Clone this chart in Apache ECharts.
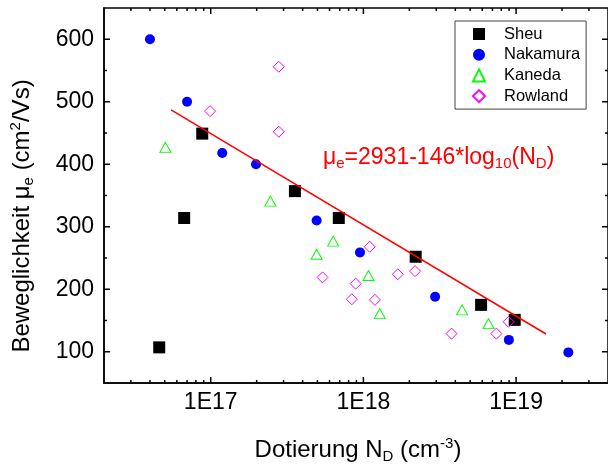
<!DOCTYPE html>
<html>
<head>
<meta charset="utf-8">
<script src="https://cdn.jsdelivr.net/npm/echarts@6/dist/echarts.min.js"></script>
<style>
  html, body { margin: 0; padding: 0; background: #fff; }
  #chart { width: 608px; height: 468px; }
</style>
</head>
<body>
<div id="chart"></div>
<script>
// Electron mobility vs. donor concentration, four literature sources
const sheuN = [4.6e16, 6.7e16, 8.8e16, 3.56e17, 6.9e17, 2.2e18, 5.9e18, 9.8e18];
const sheuMu = [107, 314, 449, 357, 314, 252, 175, 151];

const nakamuraN = [4.0e16, 7.0e16, 1.19e17, 1.98e17, 4.94e17, 9.5e17, 2.95e18, 8.97e18, 2.2e19];
const nakamuraMu = [600, 500, 418, 400, 310, 259, 188, 119, 99];

const kanedaN = [5.05e16, 2.46e17, 4.94e17, 6.34e17, 1.08e18, 1.28e18, 4.43e18, 6.6e18];
const kanedaMu = [427, 341, 256, 277, 222, 161, 167, 145];

const rowlandN = [9.9e16, 2.79e17, 2.79e17, 5.4e17, 8.4e17, 8.9e17, 1.1e18, 1.19e18, 1.68e18, 2.18e18, 3.78e18, 7.43e18, 8.93e18];
const rowlandMu = [485, 556, 452, 219, 184, 209, 268, 183, 224, 229, 129, 129, 148];

// Fit: mu_e = 2931 - 146*log10(N_D), drawn over this doping range
const fitA = 2931;
const fitB = 146;
const fitRange = [5.5e16, 1.57e19];

// Axis ticks
const xMajorTicks = [1e17, 1e18, 1e19];
const xMinorTicks = [3e16, 4e16, 5e16, 6e16, 7e16, 8e16, 9e16,
  2e17, 3e17, 4e17, 5e17, 6e17, 7e17, 8e17, 9e17,
  2e18, 3e18, 4e18, 5e18, 6e18, 7e18, 8e18, 9e18,
  2e19, 3e19];
const yMajorTicks = [100, 200, 300, 400, 500, 600];
const yMinorTicks = [150, 250, 350, 450, 550];

const FONT = 'Liberation Sans, Arial, Helvetica, sans-serif';
const X_MIN = 2e16, X_MAX = 4e19, Y_MIN = 50, Y_MAX = 650;
const MAJOR_LEN = 6, MINOR_LEN = 3, FRAME_W = 1.5;

function pairs(xs, ys) { return xs.map(function (x, i) { return [x, ys[i]]; }); }

// Inward tick marks drawn as thin bar symbols sitting on the frame edges
function tickMarks(data, size, offset) {
  return {
    type: 'scatter', silent: true, clip: false, z: 6,
    symbol: 'rect', symbolSize: size, symbolOffset: offset,
    itemStyle: { color: '#000', opacity: 1 },
    emphasis: { disabled: true },
    data: data
  };
}
function xTickSeries(vals, len) {
  return [
    tickMarks(vals.map(function (v) { return [v, Y_MIN]; }), [FRAME_W, len], [0, -len / 2]),
    tickMarks(vals.map(function (v) { return [v, Y_MAX]; }), [FRAME_W, len], [0, len / 2])
  ];
}
function yTickSeries(vals, len) {
  return [
    tickMarks(vals.map(function (v) { return [X_MIN, v]; }), [len, FRAME_W], [len / 2, 0]),
    tickMarks(vals.map(function (v) { return [X_MAX, v]; }), [len, FRAME_W], [-len / 2, 0])
  ];
}

const chart = echarts.init(document.getElementById('chart'), null, { renderer: 'canvas' });

const sb = { fontFamily: FONT, fontSize: 15, lineHeight: 12, verticalAlign: 'bottom' };
const sp = { fontFamily: FONT, fontSize: 15, lineHeight: 12, verticalAlign: 'top' };

chart.setOption({
  animation: false,
  backgroundColor: '#fff',
  grid: { left: 104, top: 8, right: -4.7, bottom: 85,
    show: true, borderColor: '#000', borderWidth: FRAME_W, backgroundColor: 'transparent' },
  xAxis: {
    type: 'log', logBase: 10, min: X_MIN, max: X_MAX,
    axisLine: { show: true, lineStyle: { color: '#000', width: FRAME_W } },
    axisTick: { show: false },
    splitLine: { show: false },
    axisLabel: { customValues: xMajorTicks, margin: 8,
      fontFamily: FONT, fontSize: 23, color: '#000',
      formatter: function (v) { return '1E' + Math.round(Math.log10(v)); } }
  },
  yAxis: {
    type: 'value', min: Y_MIN, max: Y_MAX,
    axisLine: { show: true, lineStyle: { color: '#000', width: FRAME_W } },
    axisTick: { show: false },
    splitLine: { show: false },
    axisLabel: { customValues: yMajorTicks, margin: 10,
      fontFamily: FONT, fontSize: 23, color: '#000' }
  },
  legend: {
    data: ['Sheu', 'Nakamura', 'Kaneda', 'Rowland'],
    orient: 'vertical', left: 455, top: 21,
    padding: [3, 6, 3, 17],
    itemWidth: 12, itemHeight: 12, itemGap: 0.7,
    borderColor: '#444', borderWidth: 1, backgroundColor: '#fff',
    textStyle: { fontFamily: FONT, fontSize: 16.5, lineHeight: 20, color: '#000', padding: [0, 0, 0, 14] }
  },
  series: [].concat(
    xTickSeries(xMajorTicks, MAJOR_LEN),
    xTickSeries(xMinorTicks, MINOR_LEN),
    yTickSeries(yMajorTicks, MAJOR_LEN),
    yTickSeries(yMinorTicks, MINOR_LEN),
    [
      { name: 'Sheu', type: 'scatter', symbol: 'rect', symbolSize: 12,
        itemStyle: { color: '#000', opacity: 1 }, data: pairs(sheuN, sheuMu) },
      { name: 'Nakamura', type: 'scatter', symbol: 'circle', symbolSize: 10,
        itemStyle: { color: '#0000ff', opacity: 1 }, data: pairs(nakamuraN, nakamuraMu) },
      { name: 'fit', type: 'line', showSymbol: false, symbol: 'none', silent: true,
        lineStyle: { color: '#ff0000', width: 1.5 },
        data: fitRange.map(function (n) { return [n, fitA - fitB * Math.log10(n)]; }) },
      { name: 'Kaneda', type: 'scatter', symbol: 'triangle', symbolSize: [11, 10],
        itemStyle: { color: 'transparent', borderColor: '#00ff00', borderWidth: 1, opacity: 1 },
        data: pairs(kanedaN, kanedaMu) },
      { name: 'Rowland', type: 'scatter', symbol: 'diamond', symbolSize: 11,
        itemStyle: { color: 'transparent', borderColor: '#ff00ff', borderWidth: 1, opacity: 1 },
        data: pairs(rowlandN, rowlandMu) }
    ]
  ),
  graphic: [
    { type: 'text', x: 22, y: 216, rotation: Math.PI / 2,
      style: {
        text: 'Beweglichkeit μ{sb|e} (cm{sp|2}/Vs)',
        fontFamily: FONT, fontSize: 24, lineHeight: 28, fill: '#000',
        align: 'center', verticalAlign: 'middle',
        rich: { sb: sb, sp: sp }
      } },
    { type: 'text', x: 358, y: 450,
      style: {
        text: 'Dotierung N{sb|D} (cm{sp|-3})',
        fontFamily: FONT, fontSize: 24, lineHeight: 28, fill: '#000',
        align: 'center', verticalAlign: 'middle',
        rich: { sb: sb, sp: sp }
      } },
    { type: 'text', x: 323, y: 157.5,
      style: {
        text: 'μ{sb|e}=' + fitA + '-' + fitB + '*log{sb|10}(N{sb|D})',
        fontFamily: FONT, fontSize: 23, lineHeight: 28, fill: '#ff0000',
        align: 'left', verticalAlign: 'middle',
        rich: { sb: Object.assign({}, sb, { fill: '#ff0000' }) }
      } }
  ]
});
</script>
</body>
</html>
